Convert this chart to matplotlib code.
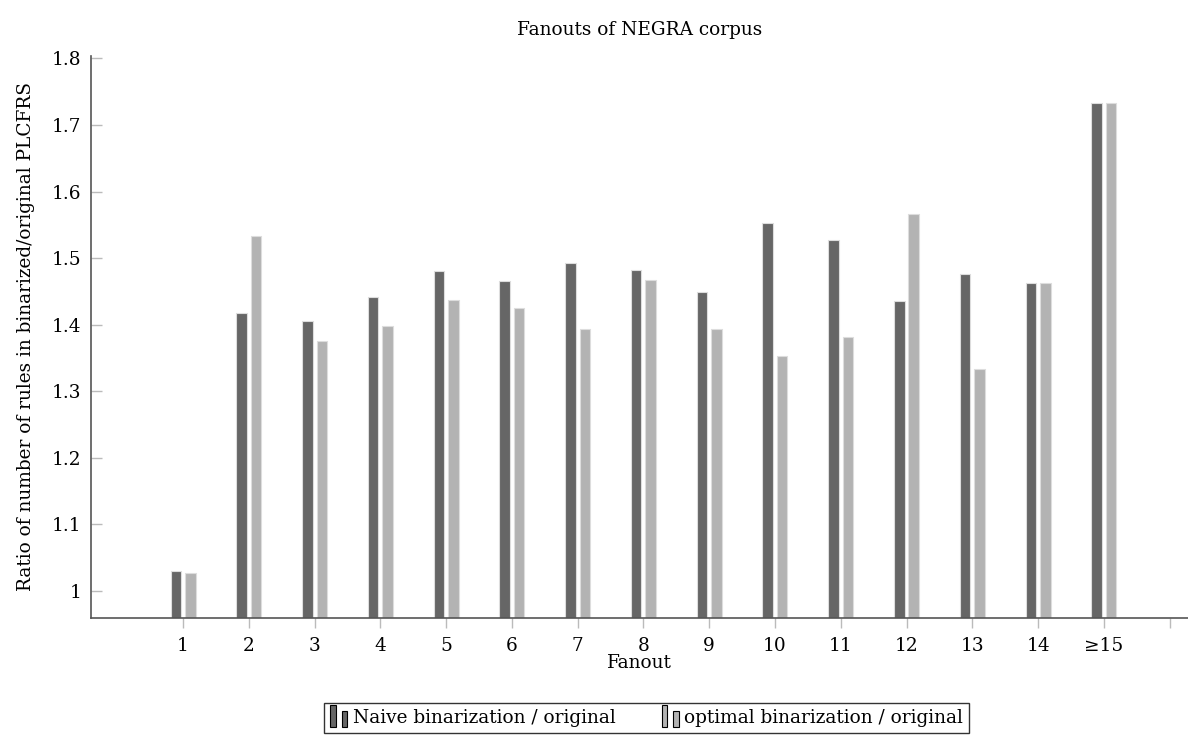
import matplotlib
matplotlib.use("Agg")
import matplotlib.pyplot as plt
import numpy as np
from matplotlib.patches import Rectangle
from matplotlib.legend_handler import HandlerBase

plt.rcParams['font.family'] = ['DejaVu Serif']

fanouts = ["1", "2", "3", "4", "5", "6", "7", "8", "9", "10", "11", "12", "13", "14", "≥15"]
naive = [1.030, 1.417, 1.405, 1.441, 1.480, 1.465, 1.493, 1.482, 1.449, 1.552,
         1.527, 1.435, 1.476, 1.462, 1.733]
optimal = [1.027, 1.533, 1.375, 1.398, 1.437, 1.425, 1.393, 1.467, 1.393, 1.353,
           1.381, 1.566, 1.333, 1.462, 1.733]

series_names = ["Naive binarization / original", "optimal binarization / original"]
colors = ["#666666", "#b3b3b3"]

FS = 13.3

fig = plt.figure(figsize=(11.88, 7.36), dpi=100)
ax = fig.add_axes([91 / 1188, 1 - 618 / 736, (1188 - 91) / 1188, (618 - 55.7) / 736])

x = np.arange(1, len(fanouts) + 1)
w = 0.16
off = 0.11
ax.bar(x - off, naive, width=w, bottom=0, color=colors[0], edgecolor="#dddddd", linewidth=0.8)
ax.bar(x + off, optimal, width=w, bottom=0, color=colors[1], edgecolor="#dddddd", linewidth=0.8)

ax.set_xlim(-0.4, 16.28)
ax.set_ylim(0.9595, 1.804)
ax.set_xticks(list(x) + [16])
ax.set_xticklabels(fanouts + [""])
ax.set_yticks([1, 1.1, 1.2, 1.3, 1.4, 1.5, 1.6, 1.7, 1.8])
ax.set_yticklabels(["1", "1.1", "1.2", "1.3", "1.4", "1.5", "1.6", "1.7", "1.8"])

for s in ["top", "right"]:
    ax.spines[s].set_visible(False)
for s in ["left", "bottom"]:
    ax.spines[s].set_color("#555555")
    ax.spines[s].set_linewidth(1.2)

ax.tick_params(axis="y", direction="in", length=8, width=1.0, color="#bbbbbb",
               labelsize=FS, pad=7)
ax.tick_params(axis="x", direction="out", length=7, width=1.0, color="#bbbbbb",
               labelsize=FS, pad=7)

ax.set_title("Fanouts of NEGRA corpus", fontsize=FS, pad=15)
ax.set_xlabel("Fanout", fontsize=FS, labelpad=-1)
ax.set_ylabel("Ratio of number of rules in binarized/original PLCFRS", fontsize=FS, labelpad=12)


class TwoBarHandler(HandlerBase):
    def __init__(self, color):
        super().__init__()
        self.color = color

    def create_artists(self, legend, orig_handle, xdescent, ydescent, width, height, fontsize, trans):
        bw = width * 0.3
        r1 = Rectangle((0, -ydescent - 3), bw, height + 7, facecolor=self.color,
                       edgecolor="black", linewidth=0.8, transform=trans)
        r2 = Rectangle((width * 0.62, -ydescent - 3), bw, height + 2, facecolor=self.color,
                       edgecolor="black", linewidth=0.8, transform=trans)
        return [r1, r2]


h1 = Rectangle((0, 0), 1, 1, color=colors[0])
h2 = Rectangle((0, 0), 1, 1, color=colors[1])
leg = fig.legend([h1, h2], series_names, loc="center", bbox_to_anchor=(646.5 / 1188, 1 - 718 / 736),
                 ncol=2, fontsize=FS, frameon=True, fancybox=False, edgecolor="black",
                 handlelength=1.0, handletextpad=0.2, columnspacing=2.5, borderpad=0.35,
                 borderaxespad=0.0,
                 handler_map={h1: TwoBarHandler(colors[0]), h2: TwoBarHandler(colors[1])})
leg.get_frame().set_linewidth(1.0)

fig.savefig("out.png", dpi=100)
